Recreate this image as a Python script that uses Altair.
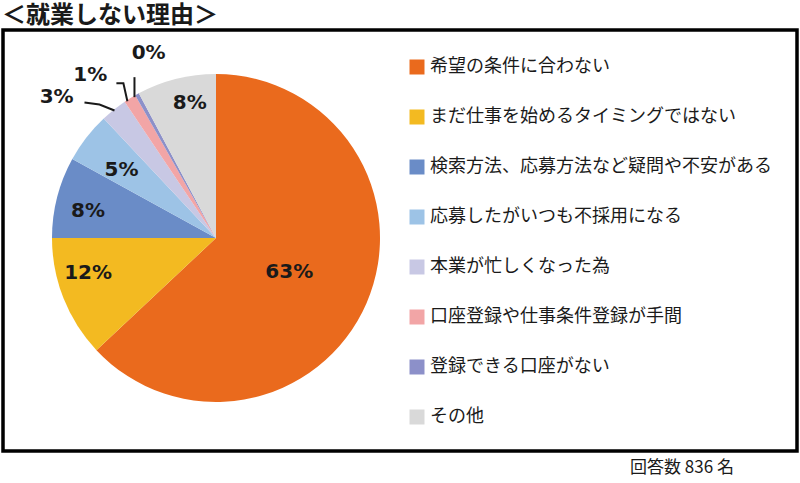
import math
import altair as alt
import pandas as pd

# ---------------- data ----------------
categories = [
    "希望の条件に合わない",
    "まだ仕事を始めるタイミングではない",
    "検索方法、応募方法など疑問や不安がある",
    "応募したがいつも不採用になる",
    "本業が忙しくなった為",
    "口座登録や仕事条件登録が手間",
    "登録できる口座がない",
    "その他",
]
percents = [63.0, 12.0, 8.0, 5.0, 2.6, 1.2, 0.4, 7.8]
title_text = "＜就業しない理由＞"
footer_text = "回答数 836 名"

# ---------------- style ----------------
colors = ["#EA6A1D", "#F3BA21", "#6A8CC7", "#9DC3E6",
          "#C8C8E4", "#F2A5A6", "#8C90C9", "#D9D9D9"]
W, H = 794, 421
PAD = {"left": 3, "top": 30, "right": 3, "bottom": 32}
CX, CY, R = 213, 208, 164
FONT_JP = "Noto Sans CJK JP"
FONT_NUM = "DejaVu Sans"
INK = "#1a1a1a"

# per-label placement: (radius, dx, dy)
label_style = {
    categories[0]: (82, -2, 1),
    categories[1]: (130, -7, -13),
    categories[2]: (130, -2, 5),
    categories[3]: (117, -2, 4),
    categories[4]: (190, -41, 8),
    categories[5]: (190, -26, -1),
    categories[6]: (200, 29, -10),
    categories[7]: (137, 7, -2),
}
# leader lines: offsets from the slice edge point
leader_style = {
    categories[4]: [(0, 0), (-15, -6), (-30, -8)],
    categories[5]: [(-3, 2), (-7, -16), (-14, -16)],
    categories[6]: [(-3, 2), (-3, -18)],
}

# ---------------- derived table ----------------
total = sum(percents)
df = pd.DataFrame({"cat": categories, "pct": percents})
df["end"] = df["pct"].cumsum()
df["start"] = df["end"] - df["pct"]
df["mid"] = (df["start"] + df["end"]) / 2
df["label"] = df["pct"].round().astype(int).astype(str) + "%"

theta_scale = alt.Scale(domain=[0, total])

pie = alt.Chart(df).mark_arc(radius=R, strokeWidth=0).encode(
    x=alt.value(CX),
    y=alt.value(CY),
    theta=alt.Theta("start:Q", scale=theta_scale),
    theta2="end:Q",
    color=alt.Color(
        "cat:N",
        sort=categories,
        scale=alt.Scale(domain=categories, range=colors),
        legend=alt.Legend(
            title=None, orient="none", legendX=405, legendY=28,
            symbolType="square", symbolSize=225, symbolStrokeWidth=0,
            symbolOpacity=1, labelFont=FONT_JP, labelFontSize=18,
            labelColor=INK, labelLimit=400, rowPadding=32, labelOffset=4,
            padding=0,
        ),
    ),
)

layers = [pie]
for cat, (rad, dx, dy) in label_style.items():
    layers.append(
        alt.Chart(df)
        .transform_filter(alt.datum.cat == cat)
        .mark_text(radius=rad, dx=dx, dy=dy, font=FONT_NUM, fontSize=20,
                   fontWeight="bold", color=INK, align="center",
                   baseline="middle")
        .encode(
            x=alt.value(CX),
            y=alt.value(CY),
            theta=alt.Theta("mid:Q", scale=theta_scale, stack=False),
            text="label:N",
        )
    )

rows = []
for cat, offs in leader_style.items():
    mid = float(df.loc[df["cat"] == cat, "mid"].iloc[0])
    a = mid / total * 2 * math.pi
    sx = CX + (R - 1) * math.sin(a)
    sy = CY - (R - 1) * math.cos(a)
    for i, (ox, oy) in enumerate(offs):
        rows.append({"seg": cat, "idx": i, "px": sx + ox, "py": sy + oy})
leaders = pd.DataFrame(rows)

leader_layer = alt.Chart(leaders).mark_line(color=INK, strokeWidth=2).encode(
    x=alt.X("px:Q", scale=None, axis=None),
    y=alt.Y("py:Q", scale=None, axis=None),
    detail="seg:N",
    order="idx:Q",
)
layers.append(leader_layer)

title_layer = alt.Chart(pd.DataFrame({"t": [title_text]})).mark_text(
    font=FONT_JP, fontSize=24, fontWeight="bold", color=INK,
    align="left", baseline="middle",
).encode(x=alt.value(-1), y=alt.value(-14), text="t:N")

footer_layer = alt.Chart(pd.DataFrame({"t": [footer_text]})).mark_text(
    font=FONT_JP, fontSize=17, color=INK, align="center", baseline="middle",
).encode(x=alt.value(679), y=alt.value(438), text="t:N")

layers += [title_layer, footer_layer]

chart = (
    alt.layer(*layers)
    .properties(width=W, height=H, padding=PAD,
                autosize=alt.AutoSizeParams(type="none"))
    .configure_view(stroke="black", strokeWidth=3.5)
)

chart.save("out.html", embed_options={"renderer": "svg", "actions": False})
